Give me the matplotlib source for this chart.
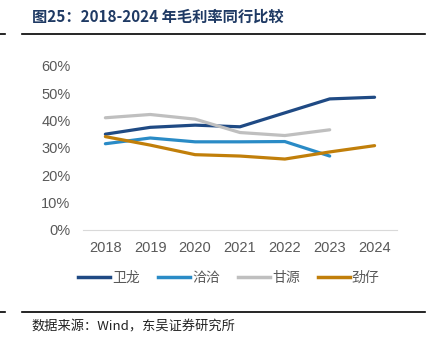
import matplotlib.pyplot as plt
from matplotlib.lines import Line2D

plt.rcParams['font.family'] = ['Noto Sans CJK SC', 'DejaVu Sans']

years = ['2018', '2019', '2020', '2021', '2022', '2023', '2024']
weilong = [0.350, 0.375, 0.383, 0.377, 0.428, 0.479, 0.485]
qiaqia = [0.315, 0.336, 0.322, 0.322, 0.323, 0.270]
ganyuan = [0.410, 0.422, 0.405, 0.356, 0.345, 0.366]
jinzai = [0.341, 0.310, 0.275, 0.270, 0.259, 0.285, 0.308]

series = [('卫龙', weilong, '#1f4a84'),
          ('洽洽', qiaqia, '#2a8bc6'),
          ('甘源', ganyuan, '#bfbfbf'),
          ('劲仔', jinzai, '#c17f0a')]

fig = plt.figure(figsize=(4.32, 3.52), dpi=100)
ax = fig.add_axes([0.192, 0.347, 0.727, 0.466])

for name, vals, c in series:
    ax.plot(range(len(vals)), vals, color=c, lw=2.3, label=name,
            solid_capstyle='round')

ax.set_xlim(-0.5, 6.5)
ax.set_ylim(0, 0.6)
ax.set_yticks([i / 10 for i in range(7)])
ax.set_yticklabels(['%d%%' % (i * 10) for i in range(7)])
ax.set_xticks(range(len(years)))
ax.set_xticklabels(years)
ax.tick_params(length=0, labelsize=10.5, colors='#595959', pad=8)
ax.tick_params(axis='y', pad=9)
for lbl in ax.get_xticklabels() + ax.get_yticklabels():
    lbl.set_family(['Liberation Sans', 'DejaVu Sans'])
for s in ['top', 'right', 'left']:
    ax.spines[s].set_visible(False)
ax.spines['bottom'].set_color('#d9d9d9')

handles = [Line2D([], [], color=c, lw=2.5) for _, _, c in series]
fig.legend(handles, [n for n, _, _ in series], loc='center',
           bbox_to_anchor=(0.53, 0.21), ncol=4, frameon=False,
           fontsize=10, labelcolor='#595959', handlelength=2.3,
           handletextpad=0.15, columnspacing=1.3)

# title and rules
fig.text(0.074, 0.952, '图25：2018-2024 年毛利率同行比较', fontsize=11,
         fontweight='bold', color='#1f3a64', va='center')
fig.add_artist(Line2D([0.051, 0.984], [0.903, 0.903], color='black', lw=1.2))
fig.add_artist(Line2D([0.0, 0.012], [0.903, 0.903], color='black', lw=1.2))
fig.add_artist(Line2D([0.051, 0.984], [0.114, 0.114], color='black', lw=1.2))
fig.add_artist(Line2D([0.0, 0.012], [0.114, 0.114], color='black', lw=1.2))
fig.text(0.074, 0.07, '数据来源：Wind，东吴证券研究所', fontsize=9.5,
         color='#222222', va='center')

fig.savefig('out.png', dpi=100)
